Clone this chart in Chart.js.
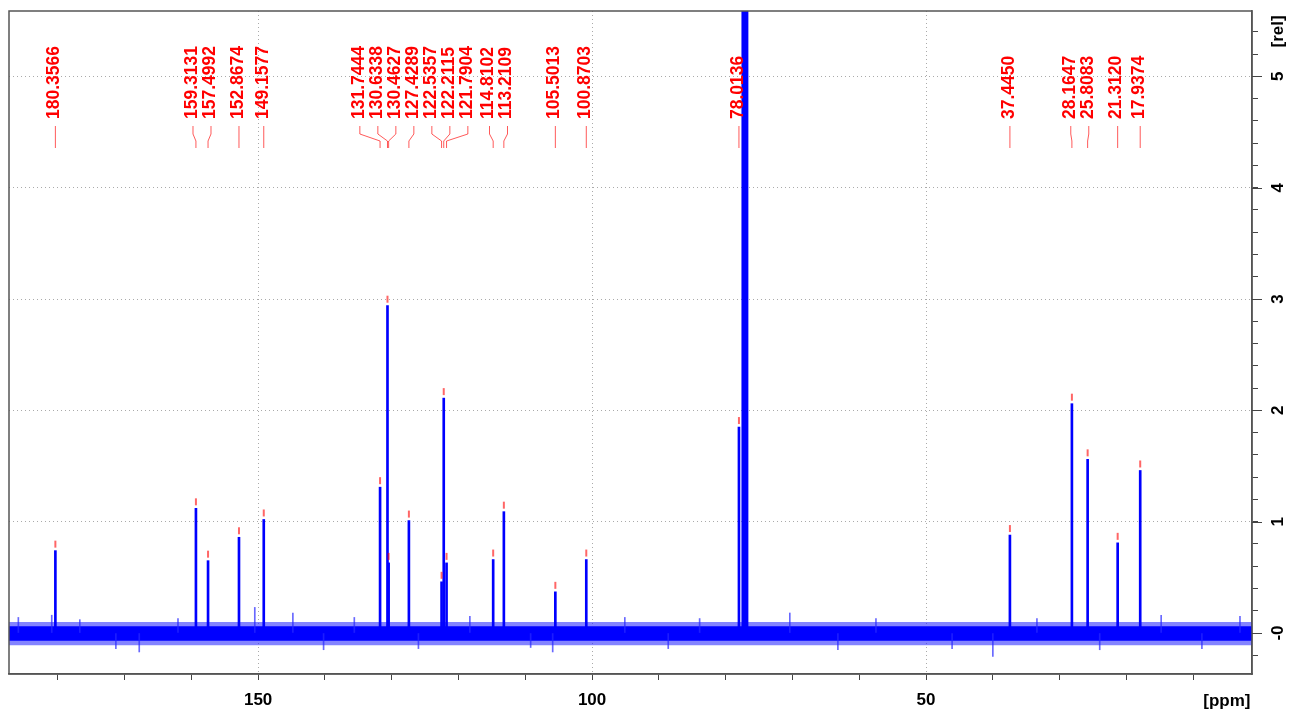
<!DOCTYPE html>
<html><head><meta charset="utf-8">
<script src="https://cdn.jsdelivr.net/npm/chart.js@4.4.1/dist/chart.umd.min.js"></script>
<style>html,body{margin:0;padding:0;background:#fff;}canvas{display:block;}</style>
</head><body>
<canvas id="c" width="1291" height="713"></canvas>
<script>
// ---- data ----
const peakPpm    = [180.3566, 159.3131, 157.4992, 152.8674, 149.1577, 131.7444, 130.6338, 130.4627, 127.4289, 122.5357, 122.2115, 121.7904, 114.8102, 113.2109, 105.5013, 100.8703, 78.0136, 37.4450, 28.1647, 25.8083, 21.3120, 17.9374];
const peakHeight = [0.74, 1.12, 0.65, 0.86, 1.02, 1.31, 2.94, 0.63, 1.01, 0.46, 2.11, 0.63, 0.66, 1.09, 0.37, 0.66, 1.85, 0.88, 2.06, 1.56, 0.81, 1.46];
const peakLabels = peakPpm.map(v => v.toFixed(4));
const solventPpm    = [77.44, 77.14, 76.80];
const solventHeight = [20, 20, 20];
const noiseSpikePpm    = [185.9, 180.9, 176.7, 171.3, 167.8, 162.0, 150.5, 144.8, 140.2, 135.6, 126.0, 118.3, 109.2, 105.9, 95.1, 88.6, 83.9, 70.4, 63.2, 57.5, 46.1, 40.0, 33.4, 24.0, 14.8, 8.7, 3.0];
const noiseSpikeHeight = [0.14, 0.16, 0.12, -0.14, -0.17, 0.13, 0.23, 0.18, -0.15, 0.14, -0.14, 0.15, -0.13, -0.17, 0.14, -0.14, 0.13, 0.18, -0.15, 0.13, -0.14, -0.21, 0.13, -0.15, 0.16, -0.14, 0.15];
const noisePpm        = [187.3, 1.2];
const noiseOuterUpper = [0.10, 0.10];
const noiseOuterLower = -0.11;
const noiseCoreUpper  = [0.06, 0.06];
const noiseCoreLower  = -0.07;
const xTickValues  = [180, 170, 160, 150, 140, 130, 120, 110, 100, 90, 80, 70, 60, 50, 40, 30, 20, 10];
const xLabelValues = [150, 100, 50];
const yMajorTicks  = [0, 1, 2, 3, 4, 5];
const yMinorStep   = 0.2;
const xRange = [1.2, 187.3];
const yRange = [-0.368, 5.587];

const yTickValues = [];
for (let i = -1; i <= 27; i++) yTickValues.push(Math.round(i * yMinorStep * 10) / 10);
const isMajor = v => Math.abs(v - Math.round(v)) < 1e-6;

const FONT = '"Liberation Sans", Arial, sans-serif';

const annot = {
  id: 'annot',
  afterDraw(chart) {
    const {ctx, chartArea: a, scales: {x, y}} = chart;
    ctx.save();
    // frame
    ctx.strokeStyle = '#555'; ctx.lineWidth = 1.5;
    ctx.strokeRect(a.left, a.top, a.right - a.left, a.bottom - a.top);
    // longer major ticks on y axis
    ctx.strokeStyle = '#444'; ctx.lineWidth = 1;
    yMajorTicks.forEach(v => {
      const py = Math.round(y.getPixelForValue(v)) + 0.5;
      ctx.beginPath(); ctx.moveTo(a.right, py); ctx.lineTo(a.right + 10, py); ctx.stroke();
    });
    // axis unit texts
    ctx.fillStyle = '#000';
    ctx.font = 'bold 17px ' + FONT;
    ctx.textAlign = 'right'; ctx.textBaseline = 'alphabetic';
    ctx.fillText('[ppm]', a.right - 1.5, 706);
    ctx.save();
    ctx.translate(a.right + 26.5, a.top + 36.5);
    ctx.rotate(-Math.PI / 2);
    ctx.textAlign = 'left'; ctx.textBaseline = 'middle';
    ctx.fillText('[rel]', 0, 0);
    ctx.restore();

    // peak markers
    const px = peakPpm.map(p => x.getPixelForValue(p));
    ctx.fillStyle = 'rgba(255,0,0,0.6)';
    peakPpm.forEach((p, i) => {
      const top = y.getPixelForValue(peakHeight[i]);
      ctx.fillRect(px[i] - 1, top - 10, 2, 7);
    });
    // spread labels
    const d = 18;
    let groups = px.map((v, i) => ({idx: [i], center: v}));
    let changed = true;
    while (changed) {
      changed = false;
      for (let i = 0; i < groups.length - 1; i++) {
        const g1 = groups[i], g2 = groups[i + 1];
        const end1 = g1.center + (g1.idx.length - 1) * d / 2;
        const start2 = g2.center - (g2.idx.length - 1) * d / 2;
        if (start2 - end1 < d) {
          const idx = g1.idx.concat(g2.idx);
          const center = idx.reduce((s, k) => s + px[k], 0) / idx.length;
          groups.splice(i, 2, {idx, center});
          changed = true; break;
        }
      }
    }
    const lx = new Array(px.length);
    groups.forEach(g => g.idx.forEach((k, j) => { lx[k] = g.center + (j - (g.idx.length - 1) / 2) * d; }));
    // connectors
    ctx.strokeStyle = 'rgba(255,0,0,0.65)'; ctx.lineWidth = 1;
    px.forEach((p, i) => {
      ctx.beginPath();
      ctx.moveTo(lx[i], 126); ctx.lineTo(lx[i], 134);
      ctx.lineTo(p, 141); ctx.lineTo(p, 148);
      ctx.stroke();
    });
    // label texts
    ctx.fillStyle = '#ff0000';
    ctx.font = 'bold 17.5px ' + FONT;
    peakLabels.forEach((t, i) => {
      ctx.save();
      ctx.translate(lx[i] - 1, 119);
      ctx.rotate(-Math.PI / 2);
      ctx.textAlign = 'left'; ctx.textBaseline = 'middle';
      ctx.fillText(t, 0, 0);
      ctx.restore();
    });
    ctx.restore();
  }
};

const noPad = s => { s.paddingTop = 0; s.paddingBottom = 0; s.paddingLeft = 0; s.paddingRight = 0; };

new Chart(document.getElementById('c'), {
  type: 'bar',
  data: {
    datasets: [
      { type: 'bar', label: 'peaks', data: peakPpm.map((p, i) => ({x: p, y: peakHeight[i]})),
        backgroundColor: '#0000ff', borderWidth: 0, barThickness: 2, grouped: false, order: 0 },
      { type: 'bar', label: 'solvent', data: solventPpm.map((p, i) => ({x: p, y: solventHeight[i]})),
        backgroundColor: '#0000ff', borderWidth: 0, barThickness: 2, grouped: false, order: 0 },
      { type: 'bar', label: 'noise spikes', data: noiseSpikePpm.map((p, i) => ({x: p, y: noiseSpikeHeight[i]})),
        backgroundColor: 'rgba(40,40,255,0.7)', borderWidth: 0, barThickness: 1, grouped: false, order: 1 },
      { type: 'line', label: 'noise core', data: noisePpm.map((p, i) => ({x: p, y: noiseCoreUpper[i]})),
        borderWidth: 0, pointRadius: 0, backgroundColor: '#0000ff', fill: {value: noiseCoreLower}, order: 2 },
      { type: 'line', label: 'noise', data: noisePpm.map((p, i) => ({x: p, y: noiseOuterUpper[i]})),
        borderWidth: 0, pointRadius: 0, backgroundColor: 'rgba(30,30,255,0.55)', fill: {value: noiseOuterLower}, order: 3 }
    ]
  },
  options: {
    responsive: false,
    devicePixelRatio: 1,
    animation: false,
    layout: { padding: { left: 9, top: 11, right: 0, bottom: 0 } },
    plugins: { legend: { display: false }, tooltip: { enabled: false } },
    scales: {
      x: {
        type: 'linear', reverse: true, min: xRange[0], max: xRange[1], offset: false,
        afterBuildTicks: s => { s.ticks = xTickValues.map(v => ({value: v})); },
        afterFit: s => { s.height = 39; noPad(s); },
        grid: {
          offset: false, tickLength: 6, tickColor: '#444', lineWidth: 1,
          color: c => (c.tick && xLabelValues.includes(c.tick.value)) ? '#aaa' : 'rgba(0,0,0,0)'
        },
        border: { display: true, color: '#555', width: 1.5, dash: [1, 3] },
        ticks: {
          autoSkip: false, maxRotation: 0, minRotation: 0, padding: 10, color: '#000',
          font: { family: FONT, size: 17, weight: 'bold' },
          callback: v => xLabelValues.includes(v) ? String(v) : ''
        }
      },
      y: {
        type: 'linear', position: 'right', min: yRange[0], max: yRange[1],
        afterBuildTicks: s => { s.ticks = yTickValues.map(v => ({value: v})); },
        afterFit: s => { s.width = 39; noPad(s); },
        grid: {
          tickLength: 6, tickColor: '#444', lineWidth: 1,
          color: c => (c.tick && isMajor(c.tick.value)) ? '#aaa' : 'rgba(0,0,0,0)'
        },
        border: { display: true, color: '#555', width: 1.5, dash: [1, 3] },
        ticks: {
          autoSkip: false, minRotation: 90, maxRotation: 90, crossAlign: 'center', padding: 12.5, color: '#000',
          font: { family: FONT, size: 17, weight: 'bold' },
          callback: v => isMajor(v) ? (Math.round(v) === 0 ? '-0' : String(Math.round(v))) : ''
        }
      }
    }
  },
  plugins: [annot]
});
</script>
</body></html>
